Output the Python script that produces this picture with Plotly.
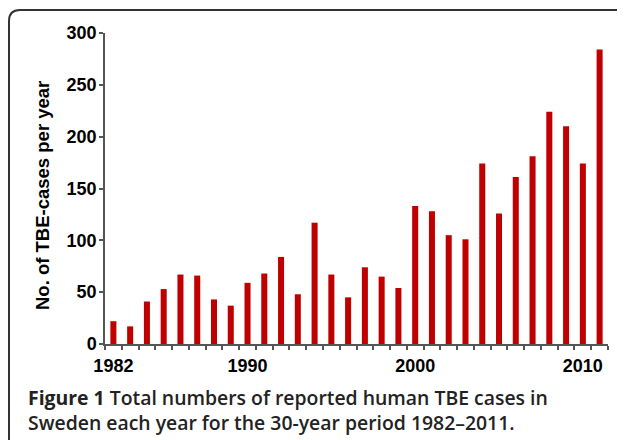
import plotly.graph_objects as go

years = list(range(1982, 2012))
cases = [22, 17, 41, 53, 67, 66, 43, 37, 59, 68, 84, 48, 117,
         67, 45, 74, 65, 54, 133, 128, 105, 101, 174, 126, 161,
         181, 224, 210, 174, 284]
x_tick_vals = [1982, 1990, 2000, 2010]
x_tick_text = ["1982", "1990", "2000", "2010"]
y_tick_vals = [0, 50, 100, 150, 200, 250, 300]
y_title = "No. of TBE-cases per year"
caption_line1 = "<b>Figure 1</b> Total numbers of reported human TBE cases in"
caption_line2 = "Sweden each year for the 30-year period 1982\u20132011."

OFF = 8  # page body margin
W, H = 625 - OFF, 440 - OFF
L, R, T, B = 105 - OFF, 17, 33 - OFF, 96
pw, ph = W - L - R, H - T - B

def px(xp):
    return (xp - OFF - L) / pw

def py(yp):
    return (H - B - (yp - OFF)) / ph

fig = go.Figure()
fig.add_trace(go.Bar(x=years, y=cases, marker=dict(color="#C00000", line=dict(width=0)),
                     width=0.36))

axis_font = dict(family="Liberation Sans, Arial, sans-serif", size=18, color="#000", weight="bold")

fig.update_layout(
    width=W, height=H,
    margin=dict(l=L, r=R, t=T, b=B),
    plot_bgcolor="white", paper_bgcolor="white",
    showlegend=False,
    xaxis=dict(range=[1981.5, 2011.5], tickvals=x_tick_vals, ticktext=x_tick_text,
               ticks="", showgrid=False, zeroline=False,
               showline=True, linecolor="#555", linewidth=1.5,
               tickfont=axis_font, ticklabelstandoff=5,
               minor=dict(tick0=1981.5, dtick=1, ticks="outside", ticklen=4,
                          tickcolor="#555", tickwidth=1.5, showgrid=False)),
    yaxis=dict(range=[0, 300], tickvals=y_tick_vals, ticks="outside", ticklen=4,
               tickcolor="#555", tickwidth=1.5, showgrid=False, zeroline=False,
               showline=True, linecolor="#555", linewidth=1.5,
               tickfont=axis_font, ticklabelstandoff=-1),
)

# y-axis title
fig.add_annotation(text="<b>" + y_title + "</b>", x=px(42), y=py(196), xref="paper", yref="paper",
                   xanchor="center", yanchor="middle", textangle=-90, showarrow=False,
                   font=dict(family="Liberation Sans, Arial, sans-serif", size=18.5, color="#000"))

# rounded frame (top-left corner) around the figure
x0, y0, x1, y1, r = 9, 10, 640, 450, 11
path = (f"M {px(x0)},{py(y1)} L {px(x0)},{py(y0 + r)} "
        f"Q {px(x0)},{py(y0)} {px(x0 + r)},{py(y0)} L {px(x1)},{py(y0)}")
fig.add_shape(type="path", path=path, xref="paper", yref="paper",
              line=dict(color="#333", width=2))

cap_font = dict(family="Open Sans, Noto Sans, sans-serif", size=19.4, color="#222", weight=600)
fig.add_annotation(text=caption_line1, x=px(26), y=py(397), xref="paper", yref="paper",
                   xanchor="left", yanchor="middle", showarrow=False, font=cap_font)
fig.add_annotation(text=caption_line2, x=px(26), y=py(423), xref="paper", yref="paper",
                   xanchor="left", yanchor="middle", showarrow=False, font=cap_font)

fig.write_html("out.html")
